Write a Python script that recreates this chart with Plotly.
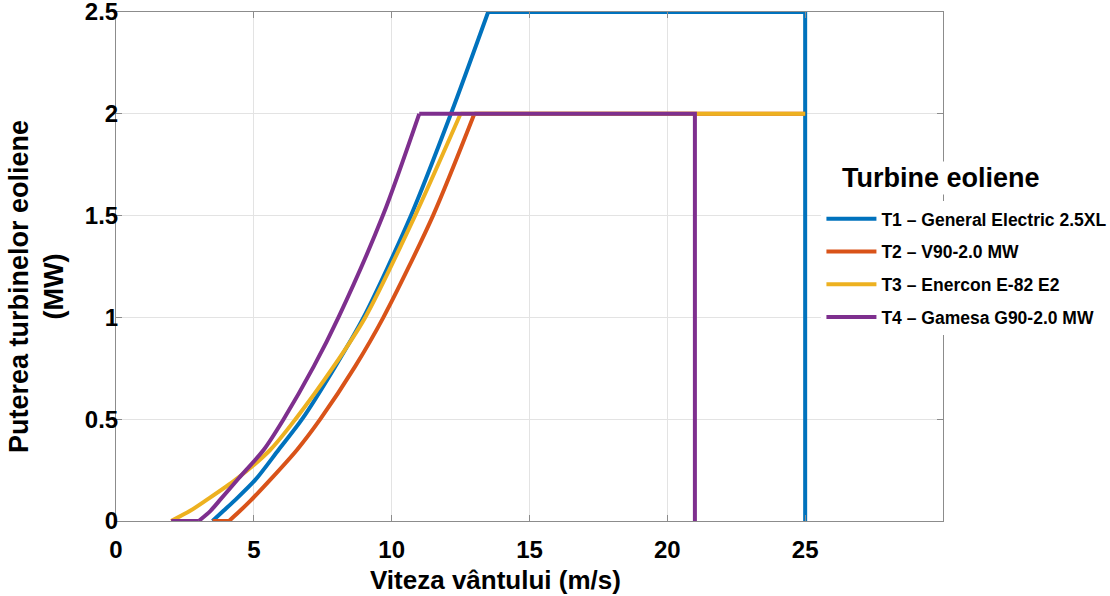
import plotly.graph_objects as go

# ---- data ----
names = ["T1 – General Electric 2.5XL", "T2 – V90-2.0 MW",
         "T3 – Enercon E-82 E2", "T4 – Gamesa G90-2.0 MW"]
colors = ["#0072BD", "#D95319", "#EDB120", "#7E2F8E"]

# ramp (cut-in -> rated power)
t1_ramp_x = [3.5, 3.9, 4.3, 5.06, 5.90, 6.75, 7.95, 8.98, 10.7, 12.15, 13.5]
t1_ramp_y = [0.0, 0.05, 0.10, 0.203, 0.35, 0.50, 0.758, 1.00, 1.50, 2.00, 2.50]
t2_ramp_x = [4.1, 4.5, 4.88, 5.60, 6.57, 7.41, 8.67, 9.70, 11.5, 13.0]
t2_ramp_y = [0.0, 0.05, 0.10, 0.203, 0.35, 0.50, 0.758, 1.00, 1.50, 2.00]
t3_ramp_x = [2.0, 2.69, 3.25, 4.34, 5.60, 6.51, 7.89, 9.04, 10.85, 12.5]
t3_ramp_y = [0.0, 0.05, 0.10, 0.203, 0.35, 0.50, 0.758, 1.00, 1.50, 2.00]
t4_ramp_x = [3.0, 3.43, 3.75, 4.46, 5.36, 6.08, 7.17, 8.07, 9.68, 11.0]
t4_ramp_y = [0.0, 0.05, 0.10, 0.211, 0.35, 0.50, 0.758, 1.00, 1.50, 2.00]

# straight pieces: zero segment below cut-in, rated plateau, cut-out drop
t1_flat_x = [3.5, 3.5, None, 13.5, 25.0, 25.0]
t1_flat_y = [0.0, 0.0, None, 2.5, 2.5, 0.0]
t2_flat_x = [3.5, 4.1, None, 13.0, 25.0]
t2_flat_y = [0.0, 0.0, None, 2.0, 2.0]
t3_flat_x = [2.0, 2.0, None, 12.5, 25.0]
t3_flat_y = [0.0, 0.0, None, 2.0, 2.0]
t4_flat_x = [2.0, 3.0, None, 11.0, 21.0, 21.0]
t4_flat_y = [0.0, 0.0, None, 2.0, 2.0, 0.0]

ramps_x = [t1_ramp_x, t2_ramp_x, t3_ramp_x, t4_ramp_x]
ramps_y = [t1_ramp_y, t2_ramp_y, t3_ramp_y, t4_ramp_y]
flats_x = [t1_flat_x, t2_flat_x, t3_flat_x, t4_flat_x]
flats_y = [t1_flat_y, t2_flat_y, t3_flat_y, t4_flat_y]

x_ticks = [0, 5, 10, 15, 20, 25]
y_ticks = [0, 0.5, 1, 1.5, 2, 2.5]
y_ticktext = ["0", "0.5", "1", "1.5", "2", "2.5"]

x_title = "Viteza vântului (m/s)"
y_title = "Puterea turbinelor eoliene<br>(MW)"
legend_title = "Turbine eoliene"

FONT = "Arial, Liberation Sans, sans-serif"

fig = go.Figure()
for i in range(4):
    fig.add_trace(go.Scatter(
        x=flats_x[i], y=flats_y[i], mode="lines", name=names[i],
        line=dict(color=colors[i], width=4), legendgroup=f"g{i}",
        showlegend=False, cliponaxis=False, hoverinfo="skip",
    ))
    fig.add_trace(go.Scatter(
        x=ramps_x[i], y=ramps_y[i], mode="lines", name=names[i],
        line=dict(color=colors[i], width=4, shape="spline", smoothing=0.8),
        legendgroup=f"g{i}", cliponaxis=False,
    ))

axis_common = dict(
    automargin=False,
    showline=True, linecolor="#8c8c8c", linewidth=1, mirror="ticks",
    ticks="inside", ticklen=6, tickcolor="#8c8c8c",
    showgrid=True, gridcolor="#e3e3e3", gridwidth=1,
    zeroline=False, ticklabeloverflow="allow",
    tickfont=dict(family=FONT, size=24, color="black", weight="bold"),
)

fig.update_xaxes(range=[0, 30], tickvals=x_ticks, ticklabelstandoff=7, **axis_common)
fig.update_yaxes(range=[0, 2.5], tickvals=y_ticks, ticktext=y_ticktext,
                 ticklabelstandoff=-8, **axis_common)

fig.add_annotation(
    text=f"<b>{x_title}</b>", xref="paper", yref="paper",
    x=0.4583, y=-0.1159, xanchor="center", yanchor="middle", showarrow=False,
    font=dict(family=FONT, size=26, color="black"),
)
fig.add_annotation(
    text=f"<b>{y_title}</b>", xref="paper", yref="paper", textangle=-90,
    x=-0.0967, y=0.4597, xanchor="center", yanchor="middle", showarrow=False,
    font=dict(family=FONT, size=27, color="black"),
)
fig.add_annotation(
    text=f"<b>{legend_title}</b>", xref="paper", yref="paper",
    x=0.8755, y=0.674, xanchor="left", yanchor="middle", showarrow=False,
    font=dict(family=FONT, size=27, color="black"), bgcolor="white",
)

fig.update_layout(
    width=1110, height=596,
    margin=dict(l=116, r=167, t=12, b=75, autoexpand=False),
    plot_bgcolor="white", paper_bgcolor="white",
    font=dict(family=FONT, color="black"),
    legend=dict(
        x=0.853, y=0.629, xanchor="left", yanchor="top",
        bgcolor="white", borderwidth=0,
        font=dict(family=FONT, size=17.5, color="black", weight="bold"),
        tracegroupgap=7,
        itemwidth=50,
    ),
    showlegend=True,
)

fig.write_html(
    "out.html",
    config={"responsive": False, "displayModeBar": False},
    post_script="document.body.style.margin='0px';document.body.style.overflow='hidden';",
)
